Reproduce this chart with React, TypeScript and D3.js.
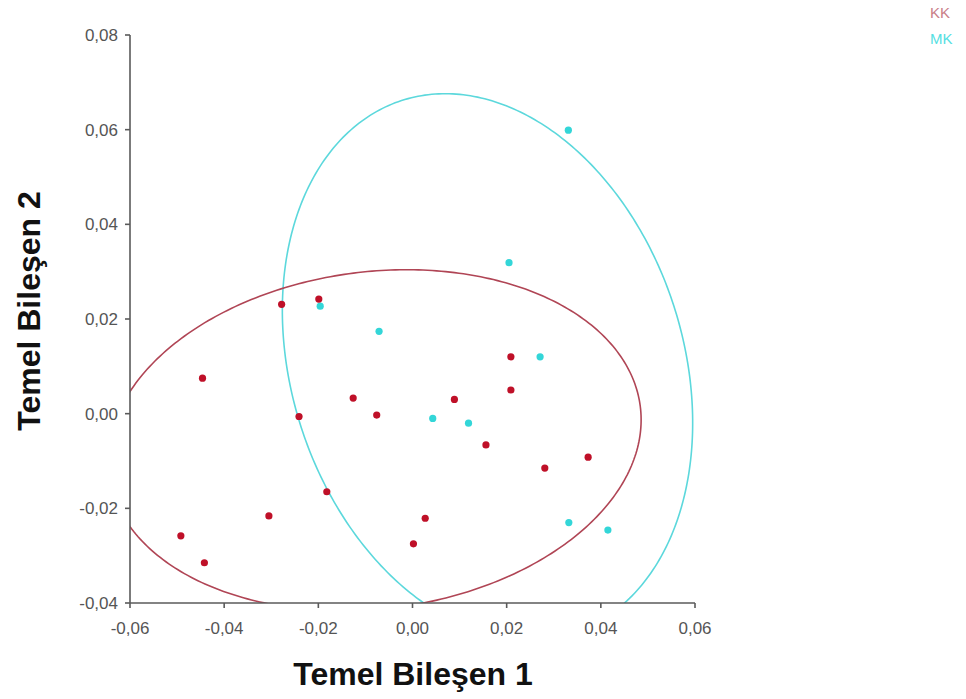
import React from "react";
import * as d3 from "d3";

// ---- data ----
const kkX = [-0.0278, -0.0199, -0.0446, -0.0241, -0.0126, -0.0076, -0.0182, -0.0305, -0.0492, -0.0442, 0.0002, 0.0027, 0.0089, 0.0209, 0.0209, 0.0156, 0.0281, 0.0373];
const kkY = [0.0231, 0.0242, 0.0075, -0.0006, 0.0033, -0.0003, -0.0165, -0.0216, -0.0258, -0.0315, -0.0275, -0.0221, 0.0030, 0.0120, 0.0050, -0.0066, -0.0115, -0.0092];
const mkX = [0.0331, 0.0205, -0.0196, -0.0071, 0.0271, 0.0043, 0.0119, 0.0332, 0.0415];
const mkY = [0.0599, 0.0319, 0.0227, 0.0174, 0.0120, -0.0010, -0.0020, -0.0230, -0.0246];

// confidence ellipses: [centerX, centerY, semiAxis1, semiAxis2, angleDeg]
const kkEllipse = [-0.00807, -0.00562, 0.0569, 0.0356, 7.2];
const mkEllipse = [0.01593, 0.00994, 0.0591, 0.0416, -72];

const xTicks = [-0.06, -0.04, -0.02, 0.0, 0.02, 0.04, 0.06];
const yTicks = [-0.04, -0.02, 0.0, 0.02, 0.04, 0.06, 0.08];
const seriesNames = ["KK", "MK"];
const xTitle = "Temel Bileşen 1";
const yTitle = "Temel Bileşen 2";

const KK_POINT = "#bf1028";
const KK_LINE = "#b04555";
const MK_POINT = "#33d6d8";
const MK_LINE = "#5cd8dc";

const locale = d3.formatLocale({ decimal: ",", thousands: ".", grouping: [3], currency: ["", ""], minus: "-" });
const fmt = locale.format(".2f");

export default function App() {
  const W = 966, H = 699;
  const x = d3.scaleLinear().domain([-0.06, 0.06]).range([130, 695]);
  const y = d3.scaleLinear().domain([-0.04, 0.08]).range([603, 35]);
  const [x0, x1] = x.range();
  const [y0, y1] = y.range();

  const ellipsePath = (e: number[]) => {
    const [cx, cy, a, b, deg] = e;
    const th = (deg * Math.PI) / 180;
    const ts = d3.range(0, 361).map((i) => (i * Math.PI) / 180);
    const line = d3
      .line<number>()
      .x((t) => x(cx + a * Math.cos(t) * Math.cos(th) - b * Math.sin(t) * Math.sin(th)))
      .y((t) => y(cy + a * Math.cos(t) * Math.sin(th) + b * Math.sin(t) * Math.cos(th)))
      .curve(d3.curveLinearClosed);
    return line(ts) || "";
  };

  const axisColor = "#5a5a5a";
  const labelColor = "#555";

  return (
    <svg width={W} height={H} style={{ position: "absolute", left: 0, top: 0, background: "#fff" }}>
      <defs>
        <clipPath id="plot">
          <rect x={x0} y={y1} width={x1 - x0} height={y0 - y1} />
        </clipPath>
      </defs>
      {/* ellipses */}
      <g clipPath="url(#plot)" fill="none" strokeWidth={1.6}>
        <path d={ellipsePath(mkEllipse)} stroke={MK_LINE} />
        <path d={ellipsePath(kkEllipse)} stroke={KK_LINE} />
      </g>
      {/* axes */}
      <g stroke={axisColor} strokeWidth={1.6} fill="none">
        <line x1={x0} x2={x0} y1={y1} y2={y0} />
        <line x1={x0} x2={x1} y1={y0} y2={y0} />
        {yTicks.map((t) => (
          <line key={"yt" + t} x1={x0 - 5} x2={x0} y1={y(t)} y2={y(t)} />
        ))}
        {xTicks.map((t) => (
          <line key={"xt" + t} x1={x(t)} x2={x(t)} y1={y0} y2={y0 + 5} />
        ))}
      </g>
      <g fontFamily="Liberation Sans, Arial, sans-serif" fontSize={17} fill={labelColor}>
        {yTicks.map((t) => (
          <text key={"yl" + t} x={x0 - 12} y={y(t) + 6} textAnchor="end">
            {fmt(t)}
          </text>
        ))}
        {xTicks.map((t) => (
          <text key={"xl" + t} x={x(t)} y={634} textAnchor="middle">
            {fmt(t)}
          </text>
        ))}
      </g>
      {/* points */}
      <g>
        {mkX.map((v, i) => (
          <circle key={"mk" + i} cx={x(v)} cy={y(mkY[i])} r={3.6} fill={MK_POINT} />
        ))}
        {kkX.map((v, i) => (
          <circle key={"kk" + i} cx={x(v)} cy={y(kkY[i])} r={3.6} fill={KK_POINT} />
        ))}
      </g>
      {/* titles */}
      <text x={413} y={685} textAnchor="middle" fontFamily="Liberation Sans, Arial, sans-serif" fontWeight="bold" fontSize={32} fill="#111">
        {xTitle}
      </text>
      <text
        transform="translate(40,311) rotate(-90)"
        textAnchor="middle"
        fontFamily="Liberation Sans, Arial, sans-serif"
        fontWeight="bold"
        fontSize={32}
        fill="#111"
      >
        {yTitle}
      </text>
      {/* legend */}
      <g fontFamily="Liberation Sans, Arial, sans-serif" fontSize={15}>
        <text x={930} y={18} fill="#c98088">{seriesNames[0]}</text>
        <text x={930} y={44} fill="#55e0e2">{seriesNames[1]}</text>
      </g>
    </svg>
  );
}
